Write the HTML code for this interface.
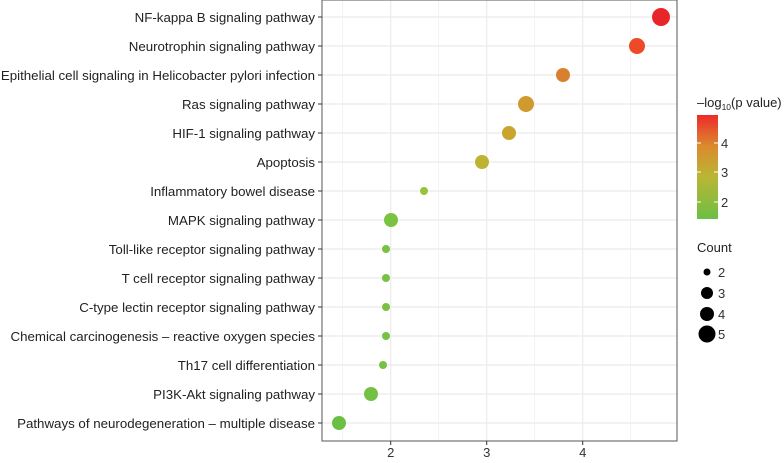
<!DOCTYPE html>
<html><head><style>body{margin:0;background:#fff}</style></head><body>
<svg width="784" height="458" xmlns="http://www.w3.org/2000/svg" font-family="Liberation Sans, Arial, sans-serif">
<defs><linearGradient id="g" x1="0" y1="1" x2="0" y2="0">
<stop offset="0" stop-color="#6cbf45"/><stop offset="0.4" stop-color="#b9b634"/><stop offset="0.7" stop-color="#db8a2e"/><stop offset="1" stop-color="#ee2a2a"/></linearGradient></defs>
<rect x="322" y="0" width="355" height="441" fill="#fff" stroke="#555" stroke-width="1"/>
<g stroke="#ebebeb" stroke-width="0.6">
<line x1="342.7" y1="0" x2="342.7" y2="441"/><line x1="438.7" y1="0" x2="438.7" y2="441"/><line x1="534.7" y1="0" x2="534.7" y2="441"/><line x1="630.7" y1="0" x2="630.7" y2="441"/></g>
<g stroke="#ebebeb" stroke-width="1.2">
<line x1="390.7" y1="0" x2="390.7" y2="441"/><line x1="486.7" y1="0" x2="486.7" y2="441"/><line x1="582.7" y1="0" x2="582.7" y2="441"/>
<line x1="322" x2="677" y1="17" y2="17"/><line x1="322" x2="677" y1="46" y2="46"/><line x1="322" x2="677" y1="75" y2="75"/><line x1="322" x2="677" y1="104" y2="104"/><line x1="322" x2="677" y1="133" y2="133"/><line x1="322" x2="677" y1="162" y2="162"/><line x1="322" x2="677" y1="191" y2="191"/><line x1="322" x2="677" y1="220" y2="220"/><line x1="322" x2="677" y1="249" y2="249"/><line x1="322" x2="677" y1="278" y2="278"/><line x1="322" x2="677" y1="307" y2="307"/><line x1="322" x2="677" y1="336" y2="336"/><line x1="322" x2="677" y1="365" y2="365"/><line x1="322" x2="677" y1="394" y2="394"/><line x1="322" x2="677" y1="423" y2="423"/></g>
<rect x="322" y="0" width="355" height="441" fill="none" stroke="#555" stroke-width="1"/>
<g stroke="#333"><line x1="318" x2="322" y1="17" y2="17"/><line x1="318" x2="322" y1="46" y2="46"/><line x1="318" x2="322" y1="75" y2="75"/><line x1="318" x2="322" y1="104" y2="104"/><line x1="318" x2="322" y1="133" y2="133"/><line x1="318" x2="322" y1="162" y2="162"/><line x1="318" x2="322" y1="191" y2="191"/><line x1="318" x2="322" y1="220" y2="220"/><line x1="318" x2="322" y1="249" y2="249"/><line x1="318" x2="322" y1="278" y2="278"/><line x1="318" x2="322" y1="307" y2="307"/><line x1="318" x2="322" y1="336" y2="336"/><line x1="318" x2="322" y1="365" y2="365"/><line x1="318" x2="322" y1="394" y2="394"/><line x1="318" x2="322" y1="423" y2="423"/>
<line x1="390.7" x2="390.7" y1="441" y2="445"/><line x1="486.7" x2="486.7" y1="441" y2="445"/><line x1="582.7" x2="582.7" y1="441" y2="445"/></g>
<g font-size="13.3" fill="#222" text-anchor="end">
<text x="315" y="22">NF-kappa B signaling pathway</text>
<text x="315" y="51">Neurotrophin signaling pathway</text>
<text x="315" y="80">Epithelial cell signaling in Helicobacter pylori infection</text>
<text x="315" y="109">Ras signaling pathway</text>
<text x="315" y="138">HIF-1 signaling pathway</text>
<text x="315" y="167">Apoptosis</text>
<text x="315" y="196">Inflammatory bowel disease</text>
<text x="315" y="225">MAPK signaling pathway</text>
<text x="315" y="254">Toll-like receptor signaling pathway</text>
<text x="315" y="283">T cell receptor signaling pathway</text>
<text x="315" y="312">C-type lectin receptor signaling pathway</text>
<text x="315" y="341">Chemical carcinogenesis – reactive oxygen species</text>
<text x="315" y="370">Th17 cell differentiation</text>
<text x="315" y="399">PI3K-Akt signaling pathway</text>
<text x="315" y="428">Pathways of neurodegeneration – multiple disease</text>
</g>
<g font-size="13" fill="#333" text-anchor="middle"><text x="390.7" y="457">2</text><text x="486.7" y="457">3</text><text x="582.7" y="457">4</text></g>
<circle cx="661" cy="17" r="9" fill="#e8262a"/>
<circle cx="637" cy="46" r="8" fill="#ee4a28"/>
<circle cx="563" cy="75" r="7" fill="#d98030"/>
<circle cx="526" cy="104" r="8" fill="#cf9a2e"/>
<circle cx="509" cy="133" r="7" fill="#c9a42e"/>
<circle cx="482" cy="162" r="7" fill="#bfb232"/>
<circle cx="424" cy="191" r="4" fill="#96c43a"/>
<circle cx="391" cy="220" r="7" fill="#7cc242"/>
<circle cx="386" cy="249" r="4" fill="#78c143"/>
<circle cx="386" cy="278" r="4" fill="#78c143"/>
<circle cx="386" cy="307" r="4" fill="#78c143"/>
<circle cx="386" cy="336" r="4" fill="#78c143"/>
<circle cx="383" cy="365" r="4" fill="#76c143"/>
<circle cx="371" cy="394" r="7" fill="#74c044"/>
<circle cx="339" cy="423" r="7" fill="#6cbf45"/>
<text x="697" y="107" font-size="13" fill="#222">–log<tspan font-size="8.5" dy="3">10</tspan><tspan dy="-3">(p value)</tspan></text>
<rect x="697" y="115" width="21" height="104" fill="url(#g)"/>
<g stroke="#fff" stroke-width="1"><line x1="697" x2="701" y1="143" y2="143"/><line x1="714" x2="718" y1="143" y2="143"/><line x1="697" x2="701" y1="172" y2="172"/><line x1="714" x2="718" y1="172" y2="172"/><line x1="697" x2="701" y1="202" y2="202"/><line x1="714" x2="718" y1="202" y2="202"/></g>
<g font-size="13" fill="#333"><text x="721" y="148">4</text><text x="721" y="177">3</text><text x="721" y="207">2</text>
<text x="697" y="252" fill="#222">Count</text>
<text x="718" y="277">2</text><text x="718" y="298">3</text><text x="718" y="319">4</text><text x="718" y="339">5</text></g>
<circle cx="707" cy="272" r="3.5" fill="#000"/><circle cx="707" cy="293" r="6" fill="#000"/><circle cx="707" cy="314" r="7" fill="#000"/><circle cx="707" cy="334" r="8.5" fill="#000"/>
</svg>
</body></html>
